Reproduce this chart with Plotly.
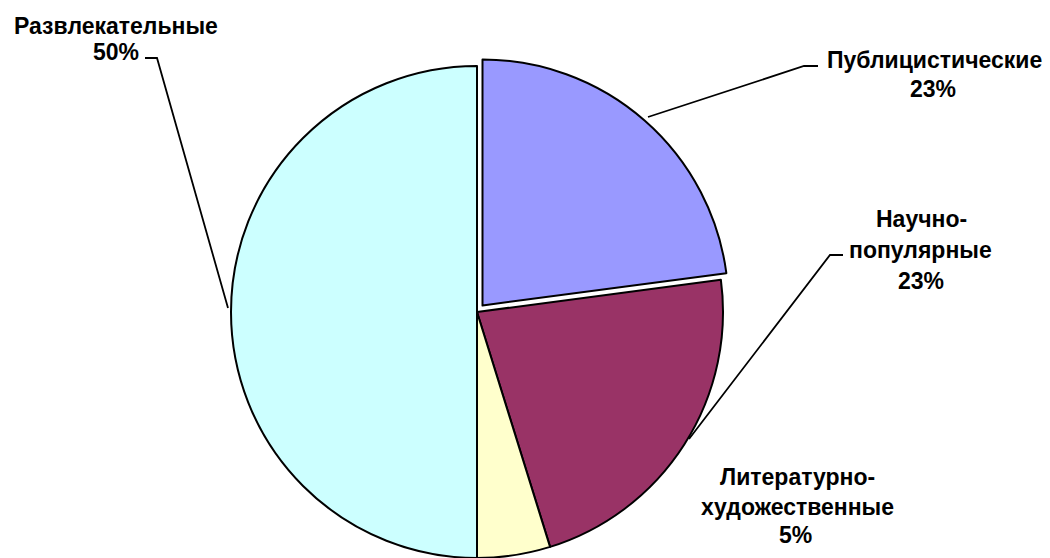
import plotly.graph_objects as go

categories = ["Публицистические", "Научно-популярные", "Литературно-художественные", "Развлекательные"]
values = [22.9, 22.3, 4.8, 50.0]
pct_labels = ["23%", "23%", "5%", "50%"]
name_lines = [["Публицистические"], ["Научно-", "популярные"], ["Литературно-", "художественные"], ["Развлекательные"]]
colors = ["#9999FF", "#993366", "#FFFFCC", "#CCFFFF"]
exploded = [True, False, False, False]

W, H = 1050, 558
cx, cy = 477, 312          # pie centre in pixels (from top-left)
R = H - cy                 # radius in pixels
pull_dx, pull_dy = 5.5, -6.5  # offset of the exploded slice in pixels

CLEAR = "rgba(0,0,0,0)"


def domain(px, py, r):
    return dict(x=[(px - r) / W, (px + r) / W], y=[(H - py - r) / H, (H - py + r) / H])


# base pie: every non-exploded slice
fig = go.Figure(go.Pie(
    labels=categories, values=values, sort=False, direction="clockwise", rotation=0,
    marker=dict(colors=[CLEAR if e else c for c, e in zip(colors, exploded)],
                line=dict(color=[CLEAR if e else "black" for e in exploded],
                          width=[0 if e else 2 for e in exploded])),
    textinfo="none", hoverinfo="label+percent", showlegend=False,
    domain=domain(cx, cy, R),
))
# exploded slice, same values, shifted outward
fig.add_trace(go.Pie(
    labels=categories, values=values, sort=False, direction="clockwise", rotation=0,
    marker=dict(colors=[c if e else CLEAR for c, e in zip(colors, exploded)],
                line=dict(color=["black" if e else CLEAR for e in exploded],
                          width=[2 if e else 0 for e in exploded])),
    textinfo="none", hoverinfo="label+percent", showlegend=False,
    domain=domain(cx + pull_dx, cy + pull_dy, R),
))

FONT = dict(family="Liberation Sans, Arial, sans-serif", size=23, color="black")

# label line positions in pixels: (centre x, centre y) for each line
label_pos = [
    [(934, 60), (933, 89)],
    [(921, 219), (920, 250), (921, 281)],
    [(797, 477), (797, 507), (795, 535)],
    [(116, 26), (116, 52)],
]
for lines, pct, positions in zip(name_lines, pct_labels, label_pos):
    for txt, (px, py) in zip(lines + [pct], positions):
        fig.add_annotation(
            x=px / W, y=1 - py / H, xref="paper", yref="paper",
            text=f"<b>{txt}</b>", showarrow=False,
            xanchor="center", yanchor="middle", align="center", font=FONT,
        )

# leader lines (pixel polylines)
leaders = [
    [(818, 66), (804, 66), (648, 117)],
    [(843, 255), (830, 255), (689, 439)],
    [(145, 58), (157, 58), (228, 308)],
]
for pts in leaders:
    path = "M " + " L ".join(f"{x / W},{1 - y / H}" for x, y in pts)
    fig.add_shape(type="path", path=path, xref="paper", yref="paper",
                  line=dict(color="black", width=1.8))

fig.update_layout(
    width=W, height=H,
    margin=dict(l=0, r=0, t=0, b=0),
    paper_bgcolor="white", plot_bgcolor="white",
)

fig.write_html(
    "out.html",
    config={"displayModeBar": False},
    post_script="document.body.style.margin='0';document.body.style.overflow='hidden';",
)
